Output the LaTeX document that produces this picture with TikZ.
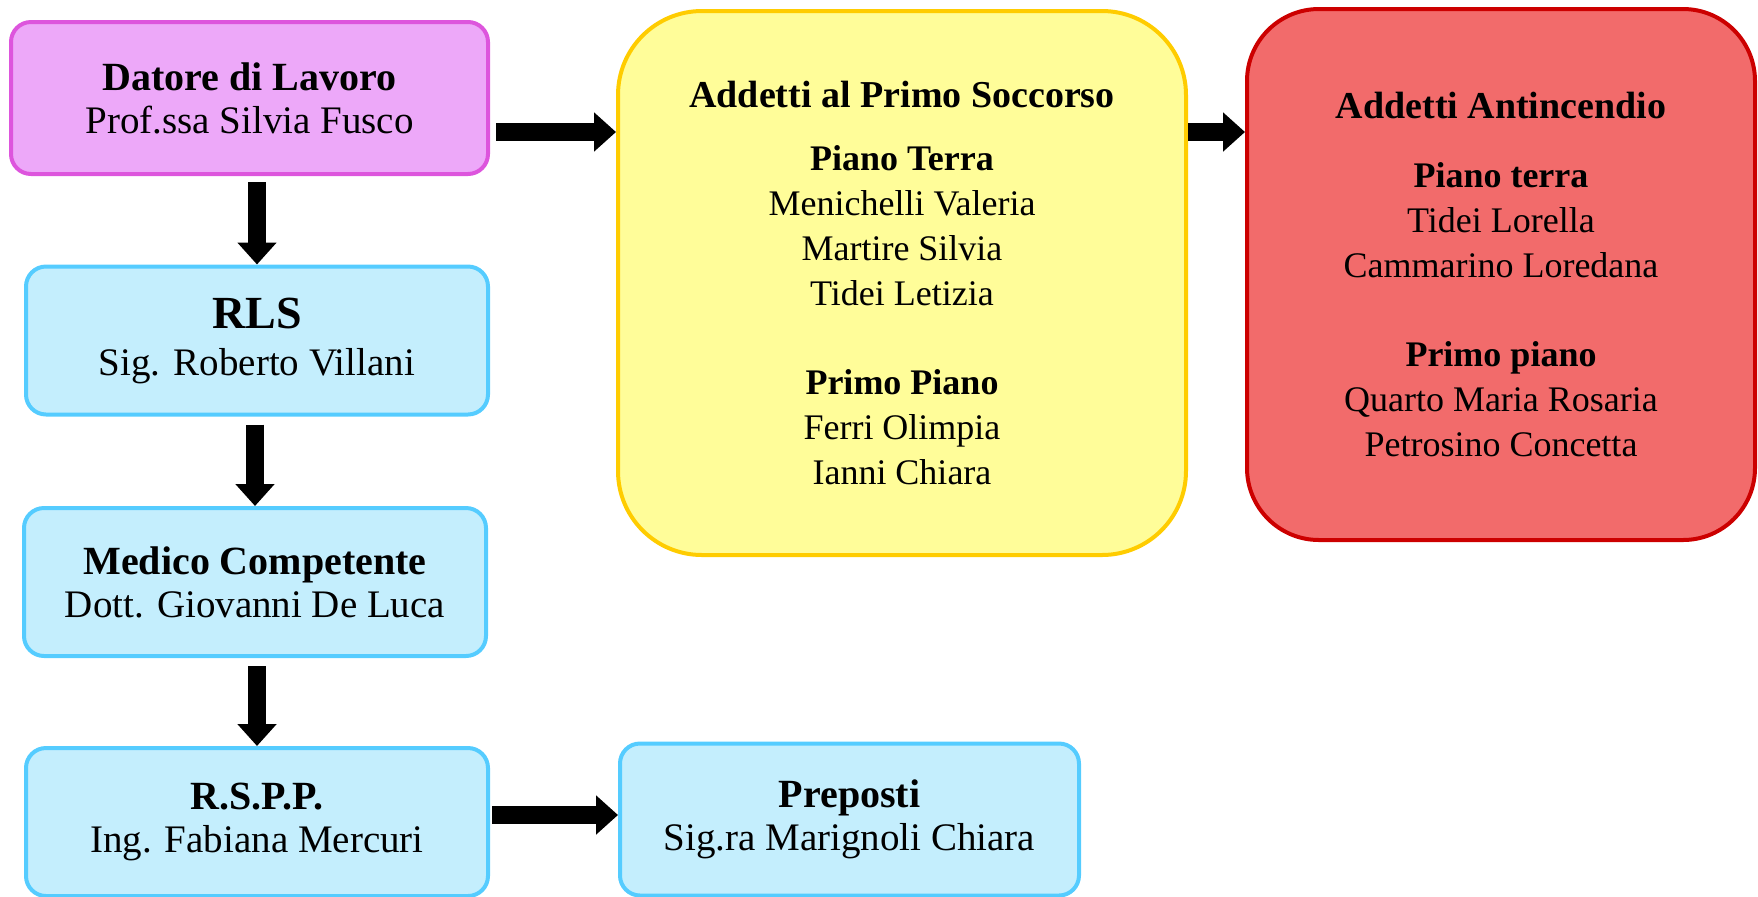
\documentclass[tikz,border=0pt]{standalone}
\usepackage{fontspec}
\setmainfont{Liberation Serif}
\usetikzlibrary{arrows.meta}

\definecolor{violafill}{HTML}{EDA8F9}
\definecolor{violaline}{HTML}{DD55DD}
\definecolor{azzurrofill}{HTML}{C4EEFD}
\definecolor{azzurroline}{HTML}{55CCFF}
\definecolor{giallofill}{HTML}{FFFD99}
\definecolor{gialloline}{HTML}{FFCC00}
\definecolor{rossofill}{HTML}{F26B6B}
\definecolor{rossoline}{HTML}{CC0000}

\begin{document}
\begin{tikzpicture}[x=0.5pt, y=-0.5pt,
    box/.style={draw, line width=2pt, rounded corners=10pt, align=center, inner sep=0pt,
      font=\fontsize{19.5}{21.5}\selectfont},
    person/.style={box, fill=azzurrofill, draw=azzurroline, minimum width=231pt, minimum height=74pt},
    bigbox/.style={draw, line width=2pt, align=center, inner sep=0pt, font=\fontsize{18}{22.4}\selectfont},
    blockarrow/.style={-{Triangle[length=11pt,width=19pt]}, line width=9pt}]
      \useasboundingbox (0,0) rectangle (1758,896);

      % left column
      \node[box, fill=violafill, draw=violaline, minimum width=238.5pt, minimum height=76pt] (datore) at (249.5,98)
        {{\bfseries\fontsize{20}{21.5}\selectfont Datore di Lavoro}\\Prof.ssa Silvia Fusco};
      \node[person] (rls) at (257,340.5)
        {{\bfseries\fontsize{23}{24}\selectfont RLS}\\[2pt]Sig. Roberto Villani};
      \node[person] (medico) at (255,582)
        {{\bfseries\fontsize{20}{21.5}\selectfont Medico Competente}\\Dott. Giovanni De Luca};
      \node[person] (rspp) at (257,822)
        {{\bfseries\fontsize{20}{21.5}\selectfont R.S.P.P.}\\Ing. Fabiana Mercuri};
      \node[person, minimum width=229.5pt, minimum height=76pt] (preposti) at (849.5,819.5)
        {{\bfseries\fontsize{20}{21.5}\selectfont Preposti}\\Sig.ra Marignoli Chiara};

      % squadre
      \node[bigbox, rounded corners=42pt, fill=giallofill, draw=gialloline,
        minimum width=284pt, minimum height=272pt] (primo) at (902,283)
        {{\bfseries\fontsize{19}{22}\selectfont Addetti al Primo Soccorso}\\[9pt]
         \textbf{Piano Terra}\\Menichelli Valeria\\Martire Silvia\\Tidei Letizia\\[22.4pt]
         \textbf{Primo Piano}\\Ferri Olimpia\\Ianni Chiara};
      \node[bigbox, rounded corners=36pt, fill=rossofill, draw=rossoline,
        minimum width=254pt, minimum height=265.5pt] (antin) at (1501,274.5)
        {{\bfseries\fontsize{19}{22}\selectfont Addetti Antincendio}\\[12pt]
         \textbf{Piano terra}\\Tidei Lorella\\Cammarino Loredana\\[22.4pt]
         \textbf{Primo piano}\\Quarto Maria Rosaria\\Petrosino Concetta};

      \coordinate (alto) at (0,132);
      \coordinate (basso) at (0,815);

      % frecce
      \draw[blockarrow, shorten <=3pt] (datore.south -| rls.north) -- (rls.north);
      \draw[blockarrow, shorten <=4pt] (rls.south -| medico.north) -- (medico.north);
      \draw[blockarrow, shorten <=4pt] (medico.south -| rspp.north) -- (rspp.north);
      \draw[blockarrow, shorten <=3pt] (datore.east |- alto) -- (primo.west |- alto);
      \draw[blockarrow] (primo.east |- alto) -- (antin.west |- alto);
      \draw[blockarrow, shorten <=1pt] (rspp.east |- basso) -- (preposti.west |- basso);
    \end{tikzpicture}
\end{document}
